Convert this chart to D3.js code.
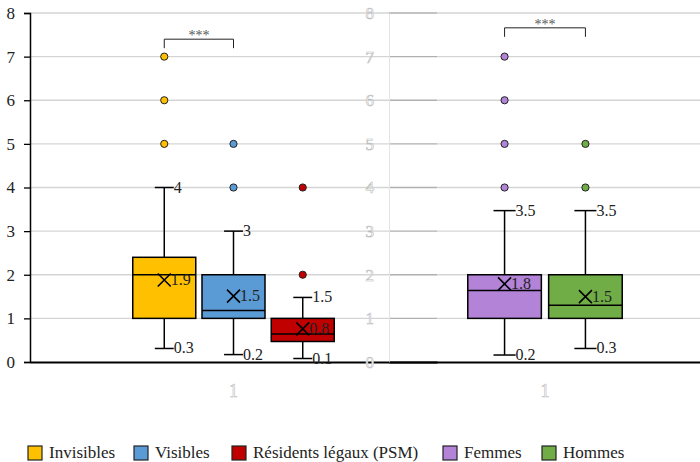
<!DOCTYPE html>
<html><head><meta charset="utf-8">
<script src="https://cdn.jsdelivr.net/npm/d3@7"></script>
<style>body{margin:0;background:#fff}svg{display:block}</style>
</head><body><svg id="c" width="700" height="462"></svg>
<script>
const categories = ["1"];
const seriesNames = ["Invisibles","Visibles","Résidents légaux (PSM)","Femmes","Hommes"];
const seriesColors = ["#FFC000","#5B9BD5","#C00000","#B383D8","#70AD47"];
const whiskerLow = [0.31,0.17,0.08,0.16,0.31];
const q1 = [1,1,0.47,1,1];
const median = [2,1.18,0.64,1.64,1.3];
const q3 = [2.4,2,1,2,2];
const whiskerHigh = [4,3,1.48,3.47,3.47];
const means = [1.88,1.51,0.76,1.79,1.5];
const outliers = [[5,6,7],[4,5],[2,4],[4,5,6,7],[4,5]];
const yTicks = [0,1,2,3,4,5,6,7,8];
const panelSeries = [[0,1,2],[3,4]];
const sigLabel = "***";

const svg = d3.select("#c");
const font = "Liberation Serif";
const fmt = v => String(+(+v).toFixed(1));
const y = d3.scaleLinear().domain([0,8]).range([362,13]);

const panels = [
  {x0:30, x1:437, visibleAxis:true, bracketY:7.4},
  {x0:389, x1:701, visibleAxis:false, bracketY:7.66}
];

panels.forEach(p=>{
  svg.append("g").selectAll("line").data(yTicks.filter(t=>t>0)).join("line")
    .attr("x1",p.x0).attr("x2",p.x1).attr("y1",d=>y(d)).attr("y2",d=>y(d))
    .attr("stroke","rgba(0,0,0,0.17)").attr("stroke-width",1.3);
});

panels.forEach((p,pi)=>{
  const ids = panelSeries[pi];
  const xo = d3.scaleBand().domain(categories).range([p.x0,p.x1]).paddingOuter(0.51).paddingInner(0);
  const xi = d3.scaleBand().domain(ids).range([xo("1"), xo("1")+xo.bandwidth()]).paddingInner(0.09).paddingOuter(0);
  const bw = xi.bandwidth();

  const ax = svg.append("g").attr("transform",`translate(${p.x0},0)`)
    .call(d3.axisLeft(y).tickValues(yTicks).tickSize(p.visibleAxis?6:0).tickPadding(p.visibleAxis?9:15).tickFormat(d3.format("d")));
  ax.attr("font-family",font).attr("font-size",17);
  ax.selectAll("text").attr("font-family",font).attr("font-size",17);
  if(p.visibleAxis){
    ax.select(".domain").attr("stroke","#000").attr("stroke-width",1.5);
    ax.selectAll(".tick line").attr("stroke","#000").attr("stroke-width",1.3);
    ax.selectAll("text").attr("fill","#222");
  } else {
    ax.select(".domain").attr("stroke","#e4e4e4").attr("stroke-width",1);
    ax.selectAll(".tick line").remove();
    ax.selectAll("text").attr("fill","#fff").attr("stroke","#bbb").attr("stroke-width",0.6);
  }
  const xa = svg.append("g").attr("transform","translate(0,362)")
    .call(d3.axisBottom(xo).tickSize(0).tickPadding(22));
  xa.attr("font-family",font).attr("font-size",18);
  xa.select(".domain").attr("stroke","#000").attr("stroke-width",2);
  xa.selectAll("text").attr("font-family",font).attr("font-size",18)
    .attr("fill","#fff").attr("stroke","#bbb").attr("stroke-width",0.6);

  ids.forEach(i=>{
    const cx = xi(i) + bw/2;
    const g = svg.append("g");
    const capW = bw*0.3;
    g.append("line").attr("x1",cx).attr("x2",cx).attr("y1",y(q3[i])).attr("y2",y(whiskerHigh[i])).attr("stroke","#000").attr("stroke-width",1.5);
    g.append("line").attr("x1",cx).attr("x2",cx).attr("y1",y(q1[i])).attr("y2",y(whiskerLow[i])).attr("stroke","#000").attr("stroke-width",1.5);
    [whiskerHigh[i], whiskerLow[i]].forEach(v=>{
      g.append("line").attr("x1",cx-capW/2).attr("x2",cx+capW/2).attr("y1",y(v)).attr("y2",y(v)).attr("stroke","#000").attr("stroke-width",1.5);
      g.append("text").attr("x",cx+capW/2).attr("y",y(v)+5).text(fmt(v))
        .attr("font-family",font).attr("font-size",16).attr("fill","#222");
    });
    g.append("rect").attr("x",xi(i)).attr("width",bw).attr("y",y(q3[i])).attr("height",y(q1[i])-y(q3[i]))
      .attr("fill",seriesColors[i]).attr("stroke","#000").attr("stroke-width",1.5);
    g.append("line").attr("x1",xi(i)).attr("x2",xi(i)+bw).attr("y1",y(median[i])).attr("y2",y(median[i])).attr("stroke","#000").attr("stroke-width",1.5);
    const my = y(means[i]), s=6.5;
    g.append("path").attr("d",`M${cx-s},${my-s}L${cx+s},${my+s}M${cx-s},${my+s}L${cx+s},${my-s}`).attr("stroke","#000").attr("stroke-width",1.6);
    g.append("text").attr("x",cx+s).attr("y",my+5).text(fmt(means[i]))
      .attr("font-family",font).attr("font-size",16).attr("fill","#222");
    g.selectAll("circle").data(outliers[i]).join("circle")
      .attr("cx",cx).attr("cy",d=>y(d)).attr("r",3.6)
      .attr("fill",seriesColors[i]).attr("stroke","#222").attr("stroke-width",1);
  });

  const a = xi(ids[0])+bw/2, b = xi(ids[1])+bw/2, by = y(p.bracketY);
  svg.append("path").attr("d",`M${a},${by+9}V${by}H${b}V${by+9}`).attr("fill","none").attr("stroke","#222").attr("stroke-width",1);
  svg.append("text").attr("x",(a+b)/2).attr("y",by+1).attr("text-anchor","middle").text(sigLabel)
    .attr("font-family",font).attr("font-size",14).attr("fill","#555");
});

const legX = [28,134,232,443,542];
const lg = svg.append("g").attr("transform","translate(0,453)");
seriesNames.forEach((n,i)=>{
  lg.append("rect").attr("x",legX[i]).attr("y",-7).attr("width",14).attr("height",14)
    .attr("fill",seriesColors[i]).attr("stroke","#222").attr("stroke-width",1.2);
  lg.append("text").attr("x",legX[i]+21).attr("y",5).text(n)
    .attr("font-family",font).attr("font-size",17).attr("fill","#222");
});
</script></body></html>
